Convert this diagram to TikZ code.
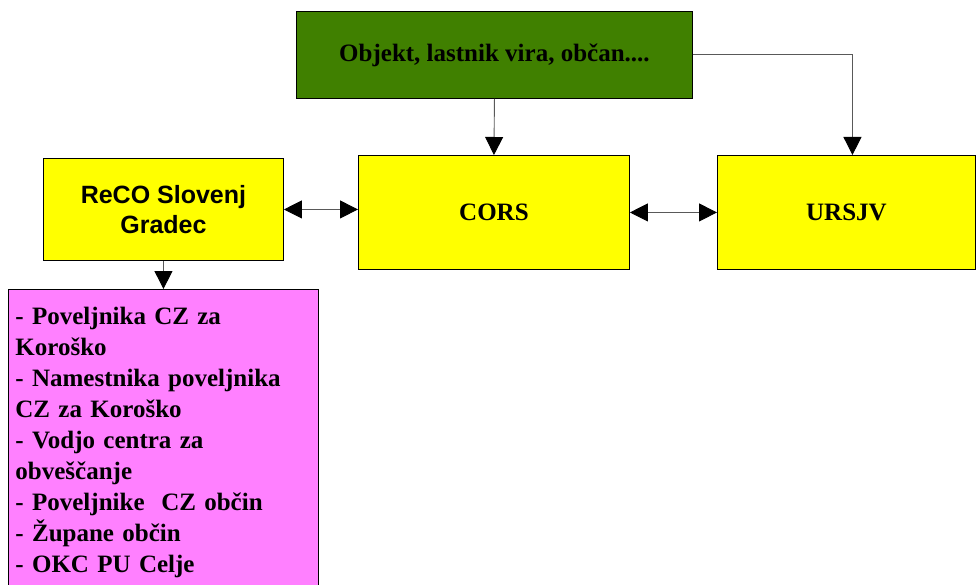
\documentclass[tikz,border=0pt]{standalone}
\usepackage{fontspec}
\setmainfont{Liberation Serif}
\newfontfamily\arialf{Liberation Sans}
\usetikzlibrary{arrows.meta}
\definecolor{boxgreen}{HTML}{408000}
\definecolor{boxyellow}{HTML}{FFFF00}
\definecolor{boxpink}{HTML}{FF80FF}
\tikzset{
  box/.style={draw=black, line width=0.9pt, rectangle, inner sep=0pt, anchor=north west},
  serifbold/.style={font=\fontsize{25}{31}\selectfont\bfseries},
  sansbold/.style={font=\arialf\fontsize{25}{30}\selectfont\bfseries},
  conn/.style={draw=black!65, line width=0.9pt, -{Triangle[length=18pt,width=18pt,black]}},
  dconn/.style={draw=black!65, line width=0.9pt, {Triangle[length=18pt,width=18pt,black]}-{Triangle[length=18pt,width=18pt,black]}}
}
\begin{document}
\begin{tikzpicture}[x=1pt,y=-1pt]
\useasboundingbox (0,0) rectangle (976,585);
\node[box, fill=boxgreen, minimum width=396pt, minimum height=87pt, serifbold] (green) at (296,11) {Objekt, lastnik vira, občan....};
\node[box, fill=boxyellow, minimum width=240pt, minimum height=102pt, sansbold, align=center] (reco) at (43,158) {ReCO Slovenj\\Gradec};
\node[box, fill=boxyellow, minimum width=271pt, minimum height=114pt, serifbold] (cors) at (358,155) {CORS};
\node[box, fill=boxyellow, minimum width=258pt, minimum height=114pt, serifbold] (ursjv) at (717,155) {URSJV};
\node[box, fill=boxpink, text width=296pt, inner xsep=7pt, inner ysep=18pt, align=left, serifbold] (pink) at (8,289) {- Poveljnika CZ za\\Koroško\\- Namestnika poveljnika\\CZ za Koroško\\- Vodjo centra za\\obveščanje\\- Poveljnike\ \ CZ občin\\- Župane občin\\- OKC PU Celje};
\draw[conn] (green.south) -- (cors.north);
\draw[conn] (green.east) -| ([xshift=6pt]ursjv.north);
\draw[dconn] (reco.east) -- (reco.east -| cors.west);
\draw[dconn] (cors.east) -- (ursjv.west);
\draw[conn] (reco.south) -- (reco.south |- pink.north);
\end{tikzpicture}
\end{document}
